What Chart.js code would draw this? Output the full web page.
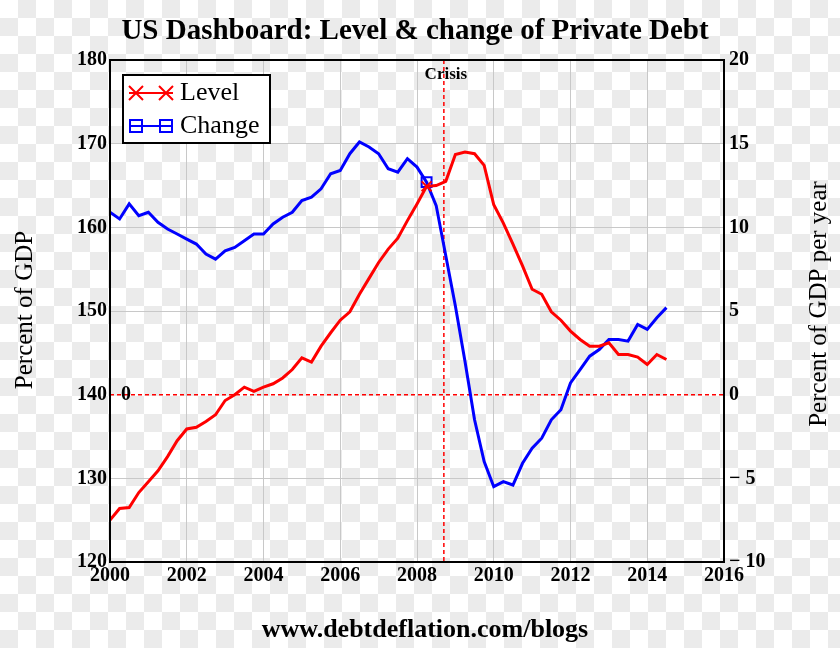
<!DOCTYPE html>
<html>
<head>
<meta charset="utf-8">
<title>US Dashboard: Level & change of Private Debt</title>
<script src="https://cdn.jsdelivr.net/npm/chart.js@4.4.1/dist/chart.umd.min.js"></script>
<style>
  html, body {
    margin: 0;
    padding: 0;
    background: repeating-conic-gradient(#ebebeb 0 25%, #ffffff 0 50%) 0 0 / 36px 36px;
  }
  canvas { display: block; }
</style>
</head>
<body>
<canvas id="grafico" width="840" height="648"></canvas>
<script>
// Quarterly dates (years)
const anos = [
  2000.00, 2000.25, 2000.50, 2000.75, 2001.00, 2001.25, 2001.50, 2001.75,
  2002.00, 2002.25, 2002.50, 2002.75, 2003.00, 2003.25, 2003.50, 2003.75,
  2004.00, 2004.25, 2004.50, 2004.75, 2005.00, 2005.25, 2005.50, 2005.75,
  2006.00, 2006.25, 2006.50, 2006.75, 2007.00, 2007.25, 2007.50, 2007.75,
  2008.00, 2008.25, 2008.50, 2008.75, 2009.00, 2009.25, 2009.50, 2009.75,
  2010.00, 2010.25, 2010.50, 2010.75, 2011.00, 2011.25, 2011.50, 2011.75,
  2012.00, 2012.25, 2012.50, 2012.75, 2013.00, 2013.25, 2013.50, 2013.75,
  2014.00, 2014.25, 2014.50
];

// Level of private debt, percent of GDP (left axis)
const nivel = [
  125.0, 126.4, 126.5, 128.3, 129.6, 130.9, 132.6, 134.5,
  135.9, 136.1, 136.8, 137.6, 139.3, 140.0, 140.9, 140.4,
  140.9, 141.3, 142.0, 143.0, 144.4, 143.9, 145.8, 147.4,
  148.9, 149.9, 152.0, 153.9, 155.8, 157.4, 158.7, 160.8,
  162.8, 164.9, 165.0, 165.5, 168.7, 169.0, 168.8, 167.4,
  162.7, 160.5, 158.0, 155.4, 152.6, 152.0, 149.9, 148.9,
  147.6, 146.6, 145.8, 145.8, 146.2, 144.8, 144.8, 144.5,
  143.6, 144.8, 144.2
];

// Change of private debt, percent of GDP per year (right axis)
const variacao = [
  10.9, 10.5, 11.4, 10.7, 10.9, 10.3, 9.9, 9.6,
  9.3, 9.0, 8.4, 8.1, 8.6, 8.8, 9.2, 9.6,
  9.6, 10.2, 10.6, 10.9, 11.6, 11.8, 12.3, 13.2,
  13.4, 14.4, 15.1, 14.8, 14.4, 13.5, 13.3, 14.1,
  13.6, 12.7, 11.3, 8.3, 5.3, 2.0, -1.5, -4.0,
  -5.5, -5.2, -5.4, -4.1, -3.2, -2.6, -1.5, -0.9,
  0.7, 1.5, 2.3, 2.7, 3.3, 3.3, 3.2, 4.2,
  3.9, 4.6, 5.2
];

const anoCrise = 2008.7;
const indiceMarcador = 33;

const serif = "'Liberation Serif', 'Times New Roman', serif";

// Only one trace marker per series
const raios = anos.map((a, i) => i === indiceMarcador ? 7 : 0);

// Extra drawing: title, axis titles, crisis lines, legend box
const extras = {
  id: 'extras',
  beforeDatasetsDraw(chart) {
    const { ctx, chartArea, scales } = chart;
    ctx.save();
    ctx.strokeStyle = '#ff0000';
    ctx.lineWidth = 1.5;
    ctx.setLineDash([4, 3]);
    const xc = scales.x.getPixelForValue(anoCrise);
    ctx.beginPath();
    ctx.moveTo(xc, chartArea.top);
    ctx.lineTo(xc, chartArea.bottom);
    ctx.stroke();
    const y0 = scales.y1.getPixelForValue(0);
    ctx.beginPath();
    ctx.moveTo(chartArea.left, y0);
    ctx.lineTo(chartArea.right, y0);
    ctx.stroke();
    ctx.restore();
  },
  afterDraw(chart) {
    const { ctx, chartArea, scales } = chart;
    ctx.save();

    // plot frame
    ctx.strokeStyle = '#000';
    ctx.lineWidth = 2;
    ctx.strokeRect(chartArea.left, chartArea.top, chartArea.right - chartArea.left, chartArea.bottom - chartArea.top);

    ctx.fillStyle = '#000';
    ctx.textAlign = 'center';
    ctx.textBaseline = 'middle';

    // title
    ctx.font = 'bold 29px ' + serif;
    ctx.fillText('US Dashboard: Level & change of Private Debt', 415, 32);

    // source
    ctx.font = 'bold 26px ' + serif;
    ctx.fillText('www.debtdeflation.com/blogs', 425, 630);

    // crisis label
    ctx.font = 'bold 17px ' + serif;
    ctx.fillText('Crisis', scales.x.getPixelForValue(anoCrise) + 2, 75);

    // zero label
    ctx.font = 'bold 20px ' + serif;
    ctx.fillText('0', 126, scales.y1.getPixelForValue(0));

    // axis titles
    ctx.font = '25px ' + serif;
    ctx.save();
    ctx.translate(25, 310);
    ctx.rotate(-Math.PI / 2);
    ctx.fillText('Percent of GDP', 0, 0);
    ctx.restore();
    ctx.save();
    ctx.translate(819, 304);
    ctx.rotate(-Math.PI / 2);
    ctx.fillText('Percent of GDP per year', 0, 0);
    ctx.restore();

    // legend
    ctx.fillStyle = '#fff';
    ctx.fillRect(123, 75, 147, 68);
    ctx.strokeStyle = '#000';
    ctx.lineWidth = 2;
    ctx.strokeRect(123, 75, 147, 68);

    ctx.lineWidth = 2;
    ctx.strokeStyle = '#ff0000';
    ctx.beginPath();
    ctx.moveTo(129, 93); ctx.lineTo(173, 93);
    [136, 166].forEach(cx => {
      ctx.moveTo(cx - 7, 86); ctx.lineTo(cx + 7, 100);
      ctx.moveTo(cx - 7, 100); ctx.lineTo(cx + 7, 86);
    });
    ctx.stroke();

    ctx.strokeStyle = '#0000ff';
    ctx.beginPath();
    ctx.moveTo(129, 126); ctx.lineTo(173, 126);
    ctx.stroke();
    [136, 166].forEach(cx => {
      ctx.strokeRect(cx - 6, 120, 12, 12);
    });

    ctx.fillStyle = '#000';
    ctx.textAlign = 'left';
    ctx.font = '26px ' + serif;
    ctx.fillText('Level', 180, 93);
    ctx.fillText('Change', 180, 126);

    ctx.restore();
  }
};

new Chart(document.getElementById('grafico'), {
  type: 'line',
  data: {
    datasets: [
      {
        label: 'Level',
        data: anos.map((a, i) => ({ x: a, y: nivel[i] })),
        borderColor: '#ff0000',
        backgroundColor: '#ff0000',
        borderWidth: 3,
        pointRadius: raios,
        pointStyle: 'crossRot',
        pointBorderWidth: 2,
        yAxisID: 'y',
        tension: 0
      },
      {
        label: 'Change',
        data: anos.map((a, i) => ({ x: a, y: variacao[i] })),
        borderColor: '#0000ff',
        backgroundColor: 'rgba(0,0,0,0)',
        borderWidth: 3,
        pointRadius: raios,
        pointStyle: 'rect',
        pointBorderWidth: 2,
        yAxisID: 'y1',
        tension: 0
      }
    ]
  },
  options: {
    responsive: false,
    animation: false,
    layout: { padding: { top: 60, left: 0, right: 0, bottom: 0 } },
    plugins: {
      legend: { display: false },
      title: { display: false },
      tooltip: { enabled: false }
    },
    scales: {
      x: {
        type: 'linear',
        min: 2000,
        max: 2016,
        afterFit: s => { s.height = 86; },
        ticks: {
          stepSize: 2,
          padding: 2,
          color: '#000',
          font: { family: serif, size: 20, weight: 'bold' },
          maxRotation: 0,
          callback: v => String(v)
        },
        grid: { color: '#c8c8c8', lineWidth: 1, drawTicks: false },
        border: { color: '#000', width: 2 }
      },
      y: {
        position: 'left',
        min: 120,
        max: 180,
        afterFit: s => { s.width = 110; },
        ticks: {
          stepSize: 10,
          padding: 3,
          color: '#000',
          font: { family: serif, size: 20, weight: 'bold' }
        },
        grid: {
          color: c => c.tick && c.tick.value === 140 ? 'rgba(0,0,0,0)' : '#c8c8c8',
          lineWidth: 1,
          drawTicks: false
        },
        border: { color: '#000', width: 2 }
      },
      y1: {
        position: 'right',
        min: -10,
        max: 20,
        afterFit: s => { s.width = 116; },
        ticks: {
          stepSize: 5,
          padding: 5,
          color: '#000',
          font: { family: serif, size: 20, weight: 'bold' },
          callback: v => v < 0 ? '\u2212 ' + Math.abs(v) : String(v)
        },
        grid: { display: false, drawTicks: false },
        border: { color: '#000', width: 2 }
      }
    }
  },
  plugins: [extras]
});
</script>
</body>
</html>
